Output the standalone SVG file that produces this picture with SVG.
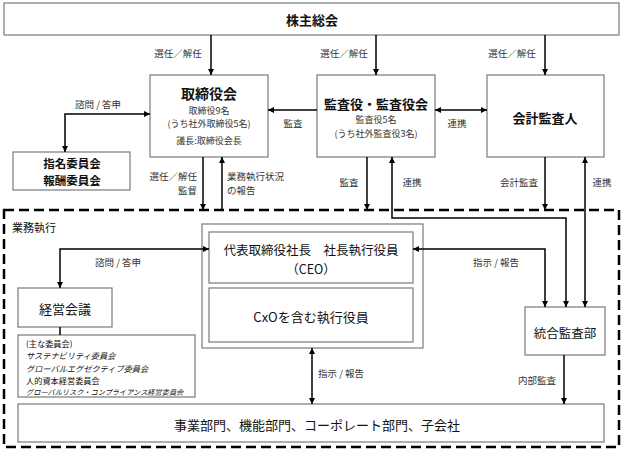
<svg xmlns="http://www.w3.org/2000/svg" width="624" height="458" viewBox="0 0 624 458">
<style>
.box{fill:#fff;stroke:#7a7a7a;stroke-width:1.2}
.t{font-family:"Noto Sans CJK JP","Noto Sans",sans-serif;fill:#111;text-anchor:middle;dominant-baseline:central}
.ti{font-size:13px;font-weight:bold}
.sub{font-size:9px;fill:#333}
.lb{font-family:"Noto Sans CJK JP","Noto Sans",sans-serif;font-size:9.5px;fill:#333;text-anchor:middle;dominant-baseline:central}
.ls{font-family:"Noto Sans CJK JP","Noto Sans",sans-serif;font-size:8.2px;fill:#111;dominant-baseline:central}
.c{fill:none;stroke:#000;stroke-width:1.5}
</style>
<defs>
<marker id="a" viewBox="0 0 10 10" refX="10" refY="5" markerWidth="6" markerHeight="6" markerUnits="userSpaceOnUse" orient="auto-start-reverse">
<path d="M0,0 L10,5 L0,10 z" fill="#000"/>
</marker>
</defs>
<rect width="624" height="458" fill="#fff"/>

<g id="exec-area">
<rect x="4" y="210" width="615" height="237" fill="none" stroke="#000" stroke-width="2.5" stroke-dasharray="10 5"/>
<text class="t" x="12" y="227" style="font-size:11px;text-anchor:start">業務執行</text>
</g>

<g id="shareholders">
<rect class="box" x="4" y="3" width="615" height="32"/>
<text class="t ti" x="312" y="19">株主総会</text>
</g>

<g id="board">
<rect class="box" x="150" y="75" width="118" height="82"/>
<text class="t" x="209" y="93" style="font-size:14px;font-weight:bold">取締役会</text>
<text class="t sub" x="209" y="110">取締役9名</text>
<text class="t sub" x="209" y="123.5">(うち社外取締役5名)</text>
<text class="t sub" x="209" y="140">議長:取締役会長</text>
</g>

<g id="auditors">
<rect class="box" x="317" y="75" width="118" height="82"/>
<text class="t ti" x="376" y="103">監査役・監査役会</text>
<text class="t sub" x="376" y="119.5">監査役5名</text>
<text class="t sub" x="376" y="133">(うち社外監査役3名)</text>
</g>

<g id="accounting-auditor">
<rect class="box" x="487" y="75" width="117" height="82"/>
<text class="t ti" x="545" y="117">会計監査人</text>
</g>

<g id="committees">
<rect class="box" x="13" y="152" width="117" height="38"/>
<text class="t" x="72" y="163" style="font-size:11.5px;font-weight:bold">指名委員会</text>
<text class="t" x="72" y="180" style="font-size:11.5px;font-weight:bold">報酬委員会</text>
</g>

<g id="ceo-group">
<rect class="box" x="202" y="224" width="221" height="124"/>
<rect class="box" x="209" y="232" width="204" height="51"/>
<text class="t" x="311" y="249" style="font-size:12.5px">代表取締役社長　社長執行役員</text>
<text class="t" x="311" y="268" style="font-size:12.5px">（CEO）</text>
<rect class="box" x="209" y="288" width="204" height="54"/>
<text class="t" x="311" y="316" style="font-size:13px">CxOを含む執行役員</text>
</g>

<g id="management-meeting">
<rect class="box" x="18" y="288" width="94" height="39"/>
<text class="t" x="65" y="308" style="font-size:13px">経営会議</text>
</g>

<g id="main-committees">
<rect class="box" x="18" y="335" width="177" height="62"/>
<text class="ls" x="26" y="343">(主な委員会)</text>
<text class="ls" x="26" y="355.3" style="font-style:italic">サステナビリティ委員会</text>
<text class="ls" x="26" y="367.6" style="font-style:italic">グローバルエグゼクティブ委員会</text>
<text class="ls" x="26" y="379.9">人的資本経営委員会</text>
<text class="ls" x="26" y="391.5" style="font-size:7.2px;font-style:italic">グローバルリスク・コンプライアンス経営委員会</text>
</g>

<g id="internal-audit">
<rect class="box" x="525" y="307" width="80" height="48"/>
<text class="t" x="565" y="332" style="font-size:12.5px">統合監査部</text>
</g>

<g id="business">
<rect class="box" x="18" y="404" width="586" height="38"/>
<text class="t" x="317" y="424" style="font-size:13px">事業部門、機能部門、コーポレート部門、子会社</text>
</g>

<g id="connectors">
<path class="c" d="M211,35 V75" marker-end="url(#a)"/>
<path class="c" d="M376,35 V75" marker-end="url(#a)"/>
<path class="c" d="M545,35 V75" marker-end="url(#a)"/>
<path class="c" d="M317,110 H268" marker-end="url(#a)"/>
<path class="c" d="M435,110 H487" marker-start="url(#a)" marker-end="url(#a)"/>
<path class="c" d="M65,152 V114 H150" marker-start="url(#a)" marker-end="url(#a)"/>
<path class="c" d="M203,157 V210" marker-end="url(#a)"/>
<path class="c" d="M222,210 V157" marker-end="url(#a)"/>
<path class="c" d="M367,157 V210" marker-end="url(#a)"/>
<path class="c" d="M392,157 V218 H566 V307" marker-start="url(#a)" marker-end="url(#a)"/>
<path class="c" d="M545,157 V210" marker-end="url(#a)"/>
<path class="c" d="M585,157 V307" marker-start="url(#a)" marker-end="url(#a)"/>
<path class="c" d="M60,288 V249 H209" marker-start="url(#a)" marker-end="url(#a)"/>
<path class="c" d="M413,249 H545 V307" marker-start="url(#a)" marker-end="url(#a)"/>
<path class="c" d="M60,327 V335"/>
<path class="c" d="M312,348 V404" marker-start="url(#a)" marker-end="url(#a)"/>
<path class="c" d="M564,355 V404" marker-end="url(#a)"/>
</g>

<g id="labels">
<text class="lb" x="178" y="53">選任／解任</text>
<text class="lb" x="344" y="53">選任／解任</text>
<text class="lb" x="512" y="53">選任／解任</text>
<text class="lb" x="98" y="104">諮問 / 答申</text>
<text class="lb" x="293" y="123">監査</text>
<text class="lb" x="457" y="123">連携</text>
<text class="lb" x="197" y="175.5" style="text-anchor:end">選任／解任</text>
<text class="lb" x="197" y="189.5" style="text-anchor:end">監督</text>
<text class="lb" x="227" y="175.5" style="text-anchor:start">業務執行状況</text>
<text class="lb" x="227" y="189.5" style="text-anchor:start">の報告</text>
<text class="lb" x="349" y="182">監査</text>
<text class="lb" x="412" y="182">連携</text>
<text class="lb" x="519" y="182">会計監査</text>
<text class="lb" x="602" y="182">連携</text>
<text class="lb" x="118" y="262">諮問 / 答申</text>
<text class="lb" x="496" y="262">指示 / 報告</text>
<text class="lb" x="318" y="373" style="text-anchor:start">指示 / 報告</text>
<text class="lb" x="537" y="380">内部監査</text>
</g>
</svg>
